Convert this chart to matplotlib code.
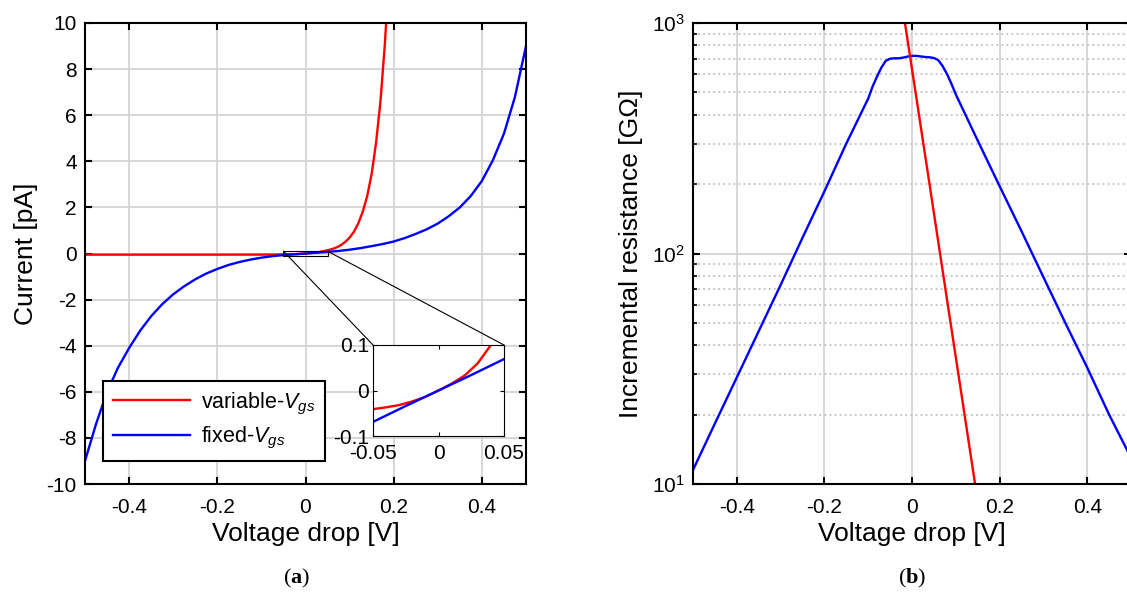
"""Diode-like I-V and incremental resistance, two panels in MATLAB style."""
import numpy as np
import matplotlib
matplotlib.use("Agg")
import matplotlib.pyplot as plt
from matplotlib.patches import Rectangle, ConnectionPatch
from matplotlib.ticker import FixedLocator, LogLocator, NullFormatter

plt.rcParams["font.family"] = ["Liberation Sans", "DejaVu Sans"]
plt.rcParams["mathtext.fontset"] = "custom"
plt.rcParams["mathtext.rm"] = "Liberation Sans"
plt.rcParams["mathtext.it"] = "Liberation Sans:italic"
plt.rcParams["mathtext.bf"] = "Liberation Serif:bold"

# ---- data ----
# (a) current [pA] vs voltage drop [V]
v_fixed = [-0.5, -0.475, -0.45, -0.425, -0.4, -0.375, -0.35, -0.325, -0.3, -0.275,
           -0.25, -0.225, -0.2, -0.175, -0.15, -0.125, -0.1, -0.075, -0.05, -0.025,
           0.0, 0.025, 0.05, 0.075, 0.1, 0.125, 0.15, 0.175, 0.2, 0.225,
           0.25, 0.275, 0.3, 0.325, 0.35, 0.375, 0.4, 0.425, 0.45, 0.475, 0.5]
i_fixed = [-9.0, -7.4, -6.0, -4.95, -4.1, -3.35, -2.72, -2.2, -1.77, -1.42,
           -1.12, -0.87, -0.67, -0.5, -0.37, -0.265, -0.18, -0.115, -0.069, -0.034,
           0.0, 0.034, 0.069, 0.11, 0.165, 0.235, 0.32, 0.41, 0.52, 0.67,
           0.85, 1.05, 1.3, 1.62, 2.0, 2.5, 3.15, 4.05, 5.2, 6.8, 9.0]

v_var = [-0.5, -0.3, -0.2, -0.1, -0.05, -0.04, -0.03, -0.02, -0.01, 0.0,
         0.01, 0.02, 0.03, 0.04, 0.05, 0.06, 0.07, 0.08, 0.09, 0.1,
         0.11, 0.12, 0.13, 0.14, 0.15, 0.16, 0.17, 0.18, 0.185]
i_var = [-0.05, -0.05, -0.05, -0.048, -0.041, -0.037, -0.032, -0.024, -0.014, 0.0,
         0.015, 0.033, 0.06, 0.1, 0.14, 0.19, 0.26, 0.36, 0.5, 0.69,
         0.95, 1.32, 1.82, 2.5, 3.45, 4.8, 6.6, 9.1, 10.7]

# (b) incremental resistance [GOhm]
v_r_fixed = [-0.5, -0.45, -0.4, -0.35, -0.3, -0.25, -0.2, -0.15, -0.1, -0.09,
             -0.08, -0.07, -0.06, -0.05, -0.04, -0.03, -0.02, -0.01, 0.0, 0.01,
             0.02, 0.03, 0.04, 0.05, 0.06, 0.07, 0.08, 0.09, 0.1, 0.15,
             0.2, 0.25, 0.3, 0.35, 0.4, 0.45, 0.5]
r_fixed = [11.5, 18.3, 29, 46, 73, 117, 186, 300, 470, 530,
           585, 640, 685, 700, 703, 703, 708, 715, 720, 720,
           716, 712, 710, 705, 690, 650, 600, 545, 490, 309,
           196, 125, 79, 50, 32, 20, 13]

v_r_var = [-0.03, -0.02, 0.0, 0.04, 0.08, 0.12, 0.15, 0.16]
r_var = [1500, 1120, 631, 200, 63, 20, 8.4, 6.3]

XTICKS = [-0.4, -0.2, 0, 0.2, 0.4]
XTICKLABELS = ["-0.4", "-0.2", "0", "0.2", "0.4"]
YTICKS_A = list(range(-10, 11, 2))
RED = "#ff0000"
BLUE = "#0000ff"
FS = 15
LFS = 19


def matlab_axes(ax):
    for s in ax.spines.values():
        s.set_linewidth(1.5)
    ax.tick_params(direction="in", top=True, right=True, width=1.5, length=5,
                   labelsize=FS)
    ax.tick_params(axis="x", pad=10)
    ax.tick_params(axis="y", pad=6)
    ax.tick_params(which="minor", direction="in", right=True, width=1.2, length=3)


fig = plt.figure(figsize=(11.27, 5.92), dpi=100)

# ---- panel (a) ----
ax = fig.add_axes([85 / 1127, 108 / 592, 441 / 1127, 461 / 592])
ax.plot(v_var, i_var, color=RED, lw=1.7, label="variable-$V_{gs}$")
ax.plot(v_fixed, i_fixed, color=BLUE, lw=1.7, label="fixed-$V_{gs}$")
ax.set_xlim(-0.5, 0.5)
ax.set_ylim(-10, 10)
ax.set_xticks(XTICKS)
ax.set_xticklabels(XTICKLABELS)
ax.set_yticks(YTICKS_A)
ax.set_yticklabels([str(t) for t in YTICKS_A])
ax.grid(True, color="#d4d4d4", lw=1.3)
ax.set_axisbelow(True)
matlab_axes(ax)
ax.set_xlabel("Voltage drop [V]", fontsize=LFS, labelpad=4)
ax.set_ylabel("Current [pA]", fontsize=LFS, labelpad=6)

leg = ax.legend(loc="lower left", bbox_to_anchor=(0.041, 0.05), borderaxespad=0,
                fontsize=FS + 0.5, frameon=True, fancybox=False, edgecolor="black",
                handlelength=3.6, borderpad=0.45, labelspacing=0.4,
                handletextpad=0.5, framealpha=1)
leg.get_frame().set_linewidth(1.5)

ax.add_patch(Rectangle((-0.05, -0.1), 0.1, 0.2, fill=False, ec="black", lw=0.8, zorder=5))

# inset
axi = fig.add_axes([373 / 1127, 156 / 592, 131 / 1127, 91 / 592])
axi.plot(v_var, i_var, color=RED, lw=1.7)
axi.plot(v_fixed, i_fixed, color=BLUE, lw=1.7)
axi.set_xlim(-0.05, 0.05)
axi.set_ylim(-0.1, 0.1)
axi.set_xticks([-0.05, 0, 0.05])
axi.set_xticklabels(["-0.05", "0", "0.05"])
axi.set_yticks([-0.1, 0, 0.1])
axi.set_yticklabels(["-0.1", "0", "0.1"])
for s in axi.spines.values():
    s.set_linewidth(0.8)
axi.tick_params(direction="in", top=True, right=True, width=0.8, length=3,
                labelsize=FS)
axi.tick_params(axis="x", pad=6)
axi.tick_params(axis="y", pad=3)

for xa, xb in [(-0.05, 0.0), (0.05, 1.0)]:
    con = ConnectionPatch(xyA=(xa, 0.1), coordsA=ax.transData,
                          xyB=(xb, 1.0), coordsB=axi.transAxes,
                          color="black", lw=0.8)
    fig.add_artist(con)

# ---- panel (b) ----
bx = fig.add_axes([693 / 1127, 108 / 592, 438 / 1127, 461 / 592])
bx.plot(v_r_fixed, r_fixed, color=BLUE, lw=1.7)
bx.plot(v_r_var, r_var, color=RED, lw=1.7)
bx.set_yscale("log")
bx.set_xlim(-0.5, 0.5)
bx.set_ylim(10, 1000)
bx.set_xticks(XTICKS)
bx.set_xticklabels(XTICKLABELS)
bx.yaxis.set_major_locator(FixedLocator([10, 100, 1000]))
bx.set_yticklabels(["$10^1$", "$10^2$", "$10^3$"])
bx.yaxis.set_minor_locator(LogLocator(base=10, subs=np.arange(2, 10)))
bx.yaxis.set_minor_formatter(NullFormatter())
bx.grid(True, which="major", color="#d4d4d4", lw=1.3)
bx.grid(True, which="minor", axis="y", color="#c0c0c0", lw=1.3, ls=(0, (1.0, 1.8)))
bx.set_axisbelow(True)
matlab_axes(bx)
bx.set_xlabel("Voltage drop [V]", fontsize=LFS, labelpad=4)
bx.set_ylabel("Incremental resistance [G\u03a9]", fontsize=LFS, labelpad=6)

# sub-figure captions
for xc, letter in [(297 / 1127, "a"), (912 / 1127, "b")]:
    fig.text(xc, 14 / 592, "(" + r"$\mathbf{" + letter + "}$" + ")", ha="center",
             va="center", fontsize=FS + 1, family="Liberation Serif")

fig.savefig("out.png", dpi=100)
